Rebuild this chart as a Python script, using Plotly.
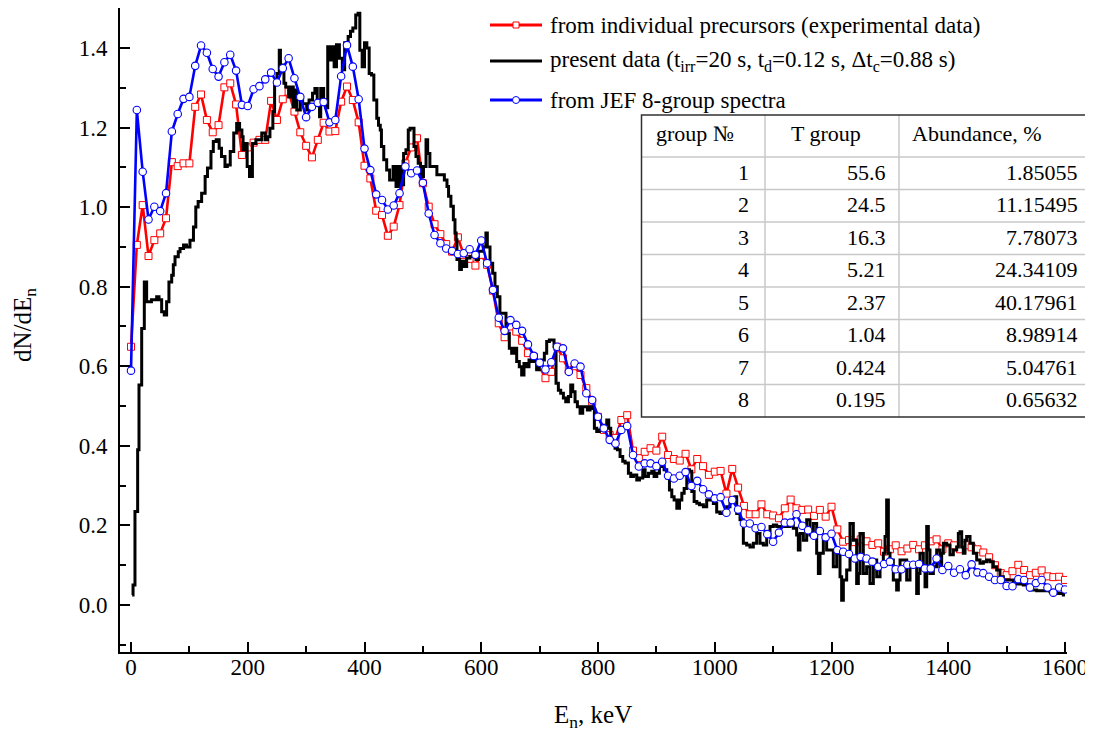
import plotly.graph_objects as go

# ---------------- data ----------------
energy_grid = list(range(0, 1610, 10))

jef_spectrum = [
    0.589, 1.244, 1.089, 0.969, 1.001, 0.990, 1.035, 1.190, 1.234, 1.272,
    1.277, 1.355, 1.406, 1.388, 1.347, 1.328, 1.364, 1.383, 1.343, 1.257,
    1.254, 1.296, 1.304, 1.321, 1.338, 1.313, 1.349, 1.374, 1.324, 1.277,
    1.226, 1.252, 1.262, 1.264, 1.213, 1.219, 1.329, 1.407, 1.353, 1.271,
    1.147, 1.093, 1.032, 1.018, 0.994, 1.004, 1.035, 1.102, 1.085, 1.092,
    1.061, 0.984, 0.930, 0.909, 0.896, 0.890, 0.882, 0.884, 0.894, 0.880,
    0.916, 0.859, 0.792, 0.722, 0.689, 0.716, 0.704, 0.689, 0.655, 0.626,
    0.609, 0.592, 0.610, 0.649, 0.645, 0.586, 0.607, 0.599, 0.532, 0.515,
    0.473, 0.444, 0.415, 0.406, 0.440, 0.450, 0.377, 0.348, 0.356, 0.356,
    0.349, 0.360, 0.325, 0.318, 0.325, 0.334, 0.299, 0.312, 0.291, 0.278,
    0.268, 0.271, 0.232, 0.264, 0.240, 0.205, 0.205, 0.193, 0.196, 0.178,
    0.159, 0.182, 0.207, 0.207, 0.228, 0.199, 0.188, 0.174, 0.186, 0.170,
    0.179, 0.138, 0.134, 0.128, 0.117, 0.121, 0.117, 0.109, 0.096, 0.103,
    0.109, 0.090, 0.090, 0.101, 0.101, 0.103, 0.092, 0.092, 0.117, 0.088,
    0.098, 0.081, 0.090, 0.075, 0.102, 0.082, 0.080, 0.071, 0.063, 0.063,
    0.048, 0.047, 0.065, 0.063, 0.044, 0.055, 0.063, 0.044, 0.031, 0.044,
    0.039,
]

precursor_spectrum = [
    0.649, 0.905, 1.005, 0.877, 0.917, 0.934, 0.972, 1.113, 1.103, 1.110,
    1.110, 1.252, 1.283, 1.219, 1.188, 1.206, 1.301, 1.311, 1.258, 1.131,
    1.150, 1.162, 1.169, 1.169, 1.267, 1.219, 1.271, 1.290, 1.240, 1.188,
    1.154, 1.125, 1.169, 1.212, 1.190, 1.191, 1.265, 1.303, 1.269, 1.213,
    1.104, 1.072, 0.991, 0.980, 0.928, 0.951, 1.005, 1.110, 1.150, 1.173,
    1.060, 1.001, 0.957, 0.932, 0.907, 0.888, 0.924, 0.880, 0.870, 0.853,
    0.880, 0.855, 0.790, 0.708, 0.673, 0.700, 0.687, 0.664, 0.633, 0.624,
    0.599, 0.570, 0.586, 0.649, 0.620, 0.590, 0.600, 0.578, 0.545, 0.511,
    0.473, 0.440, 0.427, 0.420, 0.465, 0.477, 0.388, 0.369, 0.385, 0.394,
    0.388, 0.423, 0.377, 0.367, 0.363, 0.380, 0.341, 0.367, 0.349, 0.327,
    0.335, 0.337, 0.280, 0.342, 0.295, 0.249, 0.228, 0.228, 0.253, 0.228,
    0.225, 0.218, 0.243, 0.265, 0.243, 0.239, 0.240, 0.224, 0.239, 0.222,
    0.247, 0.190, 0.159, 0.163, 0.158, 0.165, 0.160, 0.151, 0.155, 0.134,
    0.140, 0.150, 0.135, 0.142, 0.151, 0.140, 0.150, 0.160, 0.165, 0.140,
    0.155, 0.150, 0.140, 0.150, 0.145, 0.140, 0.132, 0.120, 0.100, 0.080,
    0.075, 0.085, 0.101, 0.088, 0.075, 0.081, 0.087, 0.072, 0.070, 0.071,
    0.063,
]

present_energy = [
    2, 3.5, 6.8, 11.4, 13.7, 18.3, 22.8, 26.8, 35, 44, 48, 52.5, 57, 61, 65,
    69.7, 72.5, 75.4, 81, 84, 90, 95, 101, 107, 111, 115, 121, 127, 131, 137,
    141, 146, 151, 155, 161, 165, 170, 176, 181, 186, 190, 192, 195, 199, 203,
    207, 208, 214, 220, 224, 230, 234, 238, 243, 246, 250, 254, 256, 260, 262,
    265, 270, 275, 278, 281, 284, 290, 294, 301, 305, 311, 315, 319, 323, 325,
    330, 334, 337, 341, 344, 348, 352, 357, 362, 366, 372, 376, 380, 385, 389,
    392, 396, 400, 404, 408, 412, 416, 421, 424, 427, 429, 433, 438, 443, 449,
    454, 458, 462, 467, 471, 475, 478, 481, 484.8, 488.2, 492, 496, 501, 505.4,
    508.2, 512, 518, 524, 532.6, 536.8, 541.3, 544, 548, 552.2, 555, 557, 558.4,
    563, 566, 570.5, 575, 580.7, 586.4, 591, 595, 600.7, 603.6, 608, 610.4, 615,
    619.6, 623.5, 627.5, 632, 637.9, 642.4, 648.1, 652.1, 656.1, 660.7, 665.2,
    669.2, 673.2, 677.8, 681.8, 686.4, 690.9, 694.9, 699.5, 703.5, 708.1, 712.1,
    716.7, 720.7, 724.7, 728.1, 732.1, 736.1, 740.7, 744.7, 749.3, 753.3, 756.7,
    760.7, 764.7, 769.3, 773.8, 777.8, 781.8, 786.4, 790.4, 793.8, 797.8, 802.4,
    806.4, 810.4, 815, 818.4, 821.8, 825.2, 829.2, 833.2, 837.8, 842.4, 846.4,
    852.1, 856.1, 860.7, 866.4, 871, 876.7, 880.7, 886.4, 892.1, 896.1, 900.7,
    905.2, 909.2, 913.2, 917.8, 922.4, 926.4, 930.4, 935, 939.6, 943.6, 947.6,
    952.1, 956.7, 960.7, 964.7, 969.3, 973.8, 980.5, 986.2, 997.6, 1003.3,
    1009, 1014.7, 1020.4, 1026.1, 1034.7, 1037.6, 1043.3, 1049, 1054.7, 1060.4,
    1066.1, 1071.8, 1077.5, 1083.2, 1089, 1094.7, 1100.4, 1106.1, 1117.5,
    1128.9, 1134.6, 1140.3, 1143.2, 1146, 1151.8, 1157.5, 1163.2, 1168.9,
    1174.6, 1177.5, 1180.3, 1186, 1191.7, 1197.4, 1203.1, 1208.9, 1214.6,
    1217.4, 1220.3, 1226, 1231.7, 1237.4, 1243.1, 1246, 1248.8, 1254.5, 1260.2,
    1265.9, 1271.7, 1277.4, 1283.1, 1288.8, 1291.7, 1294.5, 1297.4, 1300.2,
    1305.9, 1311.6, 1314.5, 1317.4, 1323.1, 1328.8, 1334.5, 1340.2, 1345.9,
    1348.8, 1351.6, 1357.3, 1360.2, 1363.1, 1365.9, 1368.7, 1374.5, 1380.2,
    1385.9, 1388.7, 1391.6, 1397.3, 1403, 1408.7, 1414.4, 1417.3, 1420.1, 1423,
    1425.8, 1428.7, 1431.6, 1437.3, 1443, 1448.7, 1454.4, 1460.1, 1465.8,
    1471.5, 1477.2, 1482.9, 1488.6, 1494.4, 1505.8, 1511.5, 1517.2, 1528.6,
    1540, 1551.5, 1562.9, 1574.3, 1585.7, 1597.1, 1600,
]

present_counts = [
    0.025, 0.05, 0.235, 0.39, 0.553, 0.695, 0.812, 0.762, 0.767, 0.775, 0.767,
    0.737, 0.729, 0.762, 0.812, 0.829, 0.855, 0.875, 0.888, 0.896, 0.905, 0.900,
    0.917, 0.950, 1.000, 1.014, 1.035, 1.077, 1.098, 1.140, 1.165, 1.169, 1.148,
    1.127, 1.102, 1.106, 1.140, 1.186, 1.210, 1.194, 1.177, 1.144, 1.160, 1.102,
    1.077, 1.077, 1.160, 1.169, 1.169, 1.186, 1.169, 1.177, 1.198, 1.240, 1.315,
    1.336, 1.394, 1.357, 1.340, 1.311, 1.302, 1.277, 1.302, 1.252, 1.294, 1.244,
    1.269, 1.260, 1.244, 1.269, 1.286, 1.298, 1.260, 1.227, 1.298, 1.269, 1.250,
    1.403, 1.370, 1.403, 1.353, 1.408, 1.374, 1.345, 1.413, 1.429, 1.442, 1.450,
    1.483, 1.487, 1.394, 1.353, 1.413, 1.400, 1.336, 1.332, 1.269, 1.223, 1.206,
    1.194, 1.152, 1.119, 1.093, 1.068, 1.102, 1.052, 1.102, 1.056, 1.135, 1.144,
    1.194, 1.198, 1.198, 1.152, 1.127, 1.110, 1.077, 1.102, 1.169, 1.135, 1.102,
    1.102, 1.081, 1.081, 1.068, 1.052, 1.027, 1.002, 0.968, 0.935, 0.918, 0.868,
    0.843, 0.864, 0.851, 0.872, 0.876, 0.884, 0.868, 0.889, 0.889, 0.900, 0.935,
    0.900, 0.859, 0.834, 0.800, 0.775, 0.733, 0.733, 0.683, 0.645, 0.633, 0.645,
    0.612, 0.599, 0.578, 0.607, 0.599, 0.616, 0.612, 0.616, 0.591, 0.607, 0.616,
    0.633, 0.662, 0.666, 0.666, 0.649, 0.557, 0.540, 0.532, 0.520, 0.511, 0.524,
    0.553, 0.536, 0.511, 0.498, 0.482, 0.498, 0.498, 0.490, 0.498, 0.494, 0.444,
    0.436, 0.440, 0.452, 0.452, 0.465, 0.444, 0.415, 0.406, 0.394, 0.390, 0.373,
    0.361, 0.357, 0.331, 0.323, 0.327, 0.314, 0.319, 0.340, 0.323, 0.331, 0.336,
    0.323, 0.331, 0.348, 0.357, 0.340, 0.319, 0.289, 0.272, 0.264, 0.243, 0.264,
    0.281, 0.293, 0.340, 0.336, 0.285, 0.260, 0.256, 0.252, 0.247, 0.264, 0.255,
    0.234, 0.230, 0.234, 0.247, 0.264, 0.272, 0.230, 0.214, 0.155, 0.151, 0.146,
    0.155, 0.180, 0.155, 0.151, 0.172, 0.197, 0.201, 0.197, 0.197, 0.205, 0.193,
    0.176, 0.138, 0.180, 0.163, 0.214, 0.176, 0.205, 0.130, 0.079, 0.130, 0.172,
    0.138, 0.138, 0.096, 0.130, 0.071, 0.012, 0.063, 0.088, 0.205, 0.163, 0.054,
    0.079, 0.180, 0.079, 0.096, 0.054, 0.113, 0.071, 0.100, 0.130, 0.172, 0.264,
    0.130, 0.113, 0.063, 0.038, 0.063, 0.113, 0.113, 0.063, 0.096, 0.105, 0.029,
    0.079, 0.130, 0.096, 0.046, 0.197, 0.138, 0.079, 0.096, 0.138, 0.096, 0.130,
    0.155, 0.151, 0.126, 0.138, 0.146, 0.180, 0.184, 0.146, 0.130, 0.163, 0.172,
    0.155, 0.130, 0.113, 0.105, 0.109, 0.113, 0.109, 0.096, 0.088, 0.071, 0.063,
    0.063, 0.054, 0.053, 0.050, 0.038, 0.036, 0.036, 0.033, 0.029, 0.025, 0.025,
]

x_tick_values = [0, 200, 400, 600, 800, 1000, 1200, 1400, 1600]
y_tick_values = [0.0, 0.2, 0.4, 0.6, 0.8, 1.0, 1.2, 1.4]

legend_labels = [
    "from individual precursors (experimental data)",
    "present data (t<sub>irr</sub>=20 s, t<sub>d</sub>=0.12 s, \u0394t<sub>c</sub>=0.88 s)",
    "from JEF 8-group spectra",
]

table_header = ["group \u2116", "T group", "Abundance, %"]
group_numbers = ["1", "2", "3", "4", "5", "6", "7", "8"]
group_periods = ["55.6", "24.5", "16.3", "5.21", "2.37", "1.04", "0.424", "0.195"]
group_abundances = ["1.85055", "11.15495", "7.78073", "24.34109", "40.17961",
                    "8.98914", "5.04761", "0.65632"]

# ---------------- layout geometry ----------------
# page pixels; the page body adds an 8 px offset before the figure
OFF = 8
PAGE_W, PAGE_H = 1093, 735
W, H = PAGE_W - OFF, PAGE_H - OFF
L, R, T, B = 120, 1067, 8, 652          # plot area in page pixels
FONT = "Liberation Serif, Times New Roman, Times, serif"


def pxx(x):
    return (x - L) / (R - L)


def pxy(y):
    return (B - y) / (B - T)


fig = go.Figure()

fig.add_trace(go.Scatter(
    x=energy_grid, y=precursor_spectrum, mode="lines+markers",
    line=dict(color="#ff0000", width=2.6),
    marker=dict(symbol="square", size=7, color="white",
                line=dict(color="#ff0000", width=1)),
    showlegend=False, name="precursors"))

fig.add_trace(go.Scatter(
    x=present_energy, y=present_counts, mode="lines",
    line=dict(color="black", width=3, shape="hv"),
    showlegend=False, name="present"))

fig.add_trace(go.Scatter(
    x=energy_grid, y=jef_spectrum, mode="lines+markers",
    line=dict(color="#0000ff", width=2.6),
    marker=dict(symbol="circle", size=7.5, color="white",
                line=dict(color="#0000ff", width=1.1)),
    showlegend=False, name="JEF"))

# empty trace so the frame axes (x2/y2: line + inside ticks) get drawn
fig.add_trace(go.Scatter(x=[], y=[], xaxis="x2", yaxis="y2",
                         showlegend=False, hoverinfo="skip"))

shapes = []
annotations = []

# ---------- manual legend ----------
leg_rows = [25, 61, 100]
leg_colors = ["#ff0000", "black", "#0000ff"]
for i, (yy, col) in enumerate(zip(leg_rows, leg_colors)):
    shapes.append(dict(type="line", xref="paper", yref="paper",
                       x0=pxx(490), x1=pxx(542), y0=pxy(yy), y1=pxy(yy),
                       line=dict(color=col, width=3)))
    if i == 0:
        shapes.append(dict(type="rect", xref="paper", yref="paper",
                           x0=pxx(513), x1=pxx(519), y0=pxy(yy + 3), y1=pxy(yy - 3),
                           fillcolor="white", line=dict(color=col, width=1)))
    elif i == 2:
        shapes.append(dict(type="circle", xref="paper", yref="paper",
                           x0=pxx(512.5), x1=pxx(519.5), y0=pxy(yy + 3.5), y1=pxy(yy - 3.5),
                           fillcolor="white", line=dict(color=col, width=1)))
    annotations.append(dict(xref="paper", yref="paper", x=pxx(548), y=pxy(yy),
                            xanchor="left", yanchor="middle", showarrow=False,
                            text=legend_labels[i],
                            font=dict(family=FONT, size=23, color="black")))

# ---------- table ----------
tx0, tx1, ty0, ty1 = 641.5, 1090, 115, 417
col_x = [765, 899]
hdr_bottom = 157
row_h = (ty1 - hdr_bottom) / 8
shapes.append(dict(type="rect", xref="paper", yref="paper",
                   x0=pxx(tx0), x1=pxx(tx1), y0=pxy(ty1), y1=pxy(ty0),
                   fillcolor="white", line=dict(width=0), layer="below"))
for k in range(8):
    yy = hdr_bottom + k * row_h
    shapes.append(dict(type="line", xref="paper", yref="paper",
                       x0=pxx(tx0), x1=pxx(tx1), y0=pxy(yy), y1=pxy(yy),
                       line=dict(color="#c8c8c8", width=1.5)))
for cx in col_x:
    shapes.append(dict(type="line", xref="paper", yref="paper",
                       x0=pxx(cx), x1=pxx(cx), y0=pxy(ty1), y1=pxy(ty0),
                       line=dict(color="#c8c8c8", width=1.5)))
shapes.append(dict(type="rect", xref="paper", yref="paper",
                   x0=pxx(tx0), x1=pxx(tx1), y0=pxy(ty1), y1=pxy(ty0),
                   line=dict(color="#303030", width=1.5)))

hdr_y = 133
for txt, xx in zip(table_header, [654, 789, 910]):
    annotations.append(dict(xref="paper", yref="paper", x=pxx(xx), y=pxy(hdr_y),
                            xanchor="left", yanchor="middle", showarrow=False, text=txt,
                            font=dict(family=FONT, size=22, color="black")))
for k in range(8):
    yy = hdr_bottom + (k + 0.5) * row_h - 1
    for txt, xx in zip([group_numbers[k], group_periods[k], group_abundances[k]],
                       [751, 888, 1080]):
        annotations.append(dict(xref="paper", yref="paper", x=pxx(xx), y=pxy(yy),
                                xanchor="right", yanchor="middle", showarrow=False, text=txt,
                                font=dict(family=FONT, size=22, color="black")))

# ---------- axis titles ----------
annotations.append(dict(xref="paper", yref="paper", x=pxx(593), y=pxy(716),
                        xanchor="center", yanchor="middle", showarrow=False,
                        text="E<sub>n</sub>, keV",
                        font=dict(family=FONT, size=25, color="black")))
annotations.append(dict(xref="paper", yref="paper", x=pxx(24), y=pxy(325),
                        xanchor="center", yanchor="middle", showarrow=False,
                        text="dN/dE<sub>n</sub>", textangle=-90,
                        font=dict(family=FONT, size=25, color="black")))

x_lo = (L - 131) / 0.58375
x_hi = (R - 131) / 0.58375
y_lo = (605 - B) / 397.9
y_hi = (605 - T) / 397.9

common = dict(showgrid=False, zeroline=False)

fig.update_layout(
    width=W, height=H,
    margin=dict(l=L - OFF, r=PAGE_W - R, t=T - OFF, b=PAGE_H - B, pad=0),
    paper_bgcolor="white", plot_bgcolor="white",
    font=dict(family=FONT, size=23, color="black"),
    shapes=shapes, annotations=annotations,
    # label-carrying axes
    xaxis=dict(range=[x_lo, x_hi], tickmode="array", tickvals=x_tick_values,
               anchor="free", position=1 / (B - T),
               ticks="", showline=False,
               tickfont=dict(family=FONT, size=23), **common),
    yaxis=dict(range=[y_lo, y_hi], tickmode="array", tickvals=y_tick_values,
               tickformat=".1f",
               ticks="outside", ticklen=7, tickcolor="rgba(0,0,0,0)",
               showline=False,
               tickfont=dict(family=FONT, size=23), **common),
    # frame axes: lines and inside ticks
    xaxis2=dict(range=[x_lo, x_hi], overlaying="x", anchor="y2", side="bottom",
                tickmode="array", tickvals=x_tick_values, showticklabels=False,
                ticks="inside", ticklen=10, tickwidth=2, tickcolor="black",
                showline=True, linewidth=2, linecolor="black",
                minor=dict(dtick=100, tick0=0, ticks="inside", ticklen=6,
                           tickwidth=2, tickcolor="black", showgrid=False),
                **common),
    yaxis2=dict(range=[y_lo, y_hi], overlaying="y", anchor="x2", side="left",
                tickmode="array", tickvals=y_tick_values, showticklabels=False,
                ticks="inside", ticklen=10, tickwidth=2, tickcolor="black",
                showline=True, linewidth=2, linecolor="black",
                minor=dict(dtick=0.1, tick0=0, ticks="inside", ticklen=6,
                           tickwidth=2, tickcolor="black", showgrid=False),
                **common),
)

fig.write_html("out.html")
